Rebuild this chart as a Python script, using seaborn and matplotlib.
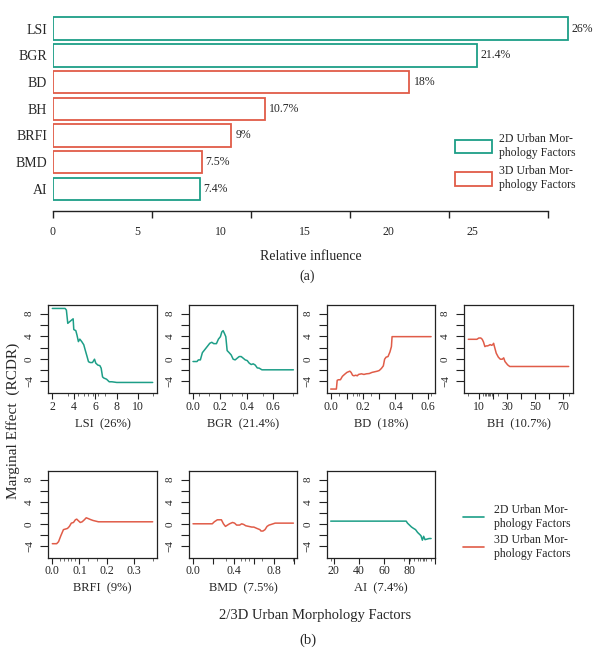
import numpy as np
import pandas as pd
import matplotlib
matplotlib.use("Agg")
import matplotlib.pyplot as plt
import seaborn as sns
from matplotlib.lines import Line2D
from matplotlib.patches import Patch

# ---------------- data ----------------
factors = ["LSI", "BGR", "BD", "BH", "BRFI", "BMD", "AI"]
influence = [26, 21.4, 18, 10.7, 9, 7.5, 7.4]
factor_type = ["2D", "2D", "3D", "3D", "3D", "3D", "2D"]
bar_ticks = [0, 5, 10, 15, 20, 25]
bar_tick_labels = ["0", "5", "10", "15", "20", "25"]
legend_labels = {"2D": "2D Urban Mor-\nphology Factors", "3D": "3D Urban Mor-\nphology Factors"}

lsi_x = [2.0, 3.19, 3.31, 3.44, 3.56, 3.81, 3.94, 4.0, 4.19, 4.3, 4.43, 4.56, 4.74, 4.93, 5.06, 5.24,
         5.37, 5.53, 5.74, 5.93, 6.05, 6.24, 6.43, 6.55, 6.68, 6.8, 7.05, 7.3, 7.55, 8.0, 11.35]
lsi_y = [8.94, 8.94, 8.65, 6.3, 6.5, 6.9, 7.1, 5.2, 5.0, 4.2, 3.06, 3.5, 3.06, 2.5, 1.6, 0.4,
         -0.5, -0.65, -0.65, -0.06, -0.76, -1.1, -1.2, -1.65, -3.2, -3.4, -3.6, -4.06, -4.06, -4.18, -4.18]
lsi_rug = [2.0, 3.44, 4.0, 4.43, 4.96, 5.37, 5.77, 6.3, 6.92, 11.35]

bgr_x = [0.0, 0.03, 0.04, 0.055, 0.07, 0.09, 0.11, 0.125, 0.14, 0.155, 0.175, 0.19, 0.205, 0.215, 0.225,
         0.235, 0.245, 0.255, 0.27, 0.285, 0.30, 0.315, 0.33, 0.345, 0.36, 0.375, 0.39, 0.405, 0.42,
         0.435, 0.45, 0.465, 0.48, 0.495, 0.515, 0.75]
bgr_y = [-0.47, -0.47, -0.18, -0.18, 1.1, 1.7, 2.3, 2.76, 2.94, 2.7, 2.7, 3.5, 3.94, 4.76, 5.0,
         4.5, 3.94, 1.47, 1.1, 0.7, -0.06, -0.18, 0.12, 0.41, 0.41, 0.12, -0.18, -0.3, -0.76,
         -1.0, -0.88, -1.1, -1.6, -1.65, -1.94, -1.94]
bgr_rug = [0.0, 0.045, 0.12, 0.295, 0.365, 0.52, 0.75]

bd_x = [0.0, 0.035, 0.04, 0.048, 0.06, 0.072, 0.085, 0.10, 0.118, 0.126, 0.135, 0.143, 0.155, 0.164,
        0.172, 0.19, 0.205, 0.22, 0.238, 0.255, 0.27, 0.288, 0.30, 0.313, 0.325, 0.333, 0.342, 0.354,
        0.366, 0.375, 0.379, 0.62]
bd_y = [-5.35, -5.35, -3.8, -3.7, -3.7, -3.1, -2.76, -2.4, -2.18, -2.4, -2.9, -3.0, -2.9, -3.0,
        -2.76, -2.65, -2.76, -2.65, -2.6, -2.4, -2.3, -2.18, -2.06, -1.7, -1.24, -0.06, 0.3, 0.41,
        1.24, 2.18, 3.94, 3.94]
bd_rug = [0.0, 0.05, 0.138, 0.16, 0.174, 0.25, 0.3, 0.62]

bh_x = [2.5, 8.6, 10, 11.4, 12.4, 13.3, 14.3, 15.3, 16.2, 17.2, 18.1, 19.1, 20.0, 20.5, 21.5, 22.4,
        23.9, 25.3, 26.7, 27.7, 28.6, 30.5, 32.0, 74]
bh_y = [3.47, 3.47, 3.7, 3.7, 3.47, 3.0, 2.18, 2.3, 2.3, 2.4, 2.53, 2.4, 2.53, 2.76, 1.82, 1.0,
        0.3, -0.06, -0.06, 0.18, -0.47, -1.06, -1.35, -1.35]
bh_rug = [2.5, 12.9, 14.3, 15.3, 16.2, 17.2, 18.1, 19.5, 23.4, 74]

brfi_x = [0.0, 0.016, 0.023, 0.031, 0.041, 0.048, 0.056, 0.063, 0.07, 0.078, 0.085, 0.09, 0.095,
          0.103, 0.11, 0.118, 0.125, 0.132, 0.14, 0.15, 0.16, 0.17, 0.37]
brfi_y = [-3.53, -3.53, -3.17, -2.15, -1.0, -0.9, -0.78, -0.42, 0.17, 0.29, 0.77, 0.89, 0.65,
          0.29, 0.41, 0.77, 1.13, 1.0, 0.83, 0.65, 0.53, 0.41, 0.41]
brfi_rug = [0.0, 0.028, 0.043, 0.056, 0.068, 0.083, 0.133, 0.163, 0.37]

bmd_x = [0.0, 0.19, 0.21, 0.24, 0.28, 0.30, 0.32, 0.34, 0.36, 0.39, 0.41, 0.43, 0.46, 0.48, 0.50,
         0.52, 0.55, 0.58, 0.60, 0.63, 0.66, 0.67, 0.69, 0.71, 0.73, 0.75, 0.77, 0.81, 0.99]
bmd_y = [0.05, 0.05, 0.41, 0.77, 0.77, 0.05, -0.42, -0.18, 0.05, 0.29, 0.17, -0.18, -0.18, 0.05,
         -0.07, -0.3, -0.42, -0.54, -0.54, -0.78, -1.0, -1.25, -1.25, -1.0, -0.42, -0.18, -0.07,
         0.17, 0.17]
bmd_rug = [0.0, 0.325, 0.47, 0.517, 0.556, 0.68, 0.99]

ai_x = [17.6, 77.4, 78.4, 80.0, 81.6, 83.2, 84.8, 86.4, 88.0, 89.1, 90.2, 91.2, 92.3, 93.9, 95.5, 97.1]
ai_y = [0.53, 0.53, 0.17, -0.18, -0.53, -0.78, -1.0, -1.5, -1.85, -2.1, -2.9, -2.2, -2.8, -2.7,
        -2.6, -2.6]
ai_rug = [17.6, 75.7, 80.6, 83.8, 86.4, 88.6, 90.7, 91.7, 93.0, 97.1]

panel_xticks = {
    "LSI": ([2, 4, 6, 8, 10], ["2", "4", "6", "8", "10"]),
    "BGR": ([0, 0.2, 0.4, 0.6], ["0.0", "0.2", "0.4", "0.6"]),
    "BD": ([0, 0.1, 0.2, 0.3, 0.4, 0.5, 0.6], ["0.0", "", "0.2", "", "0.4", "", "0.6"]),
    "BH": ([10, 20, 30, 40, 50, 60, 70], ["10", "", "30", "", "50", "", "70"]),
    "BRFI": ([0, 0.1, 0.2, 0.3], ["0.0", "0.1", "0.2", "0.3"]),
    "BMD": ([0, 0.2, 0.4, 0.6, 0.8, 1.0], ["0.0", "", "0.4", "", "0.8", ""]),
    "AI": ([20, 40, 60, 80, 100], ["20", "40", "60", "80", ""]),
}
y_ticks = [-4, -2, 0, 2, 4, 6, 8]
y_tick_labels = ["\u22124", "", "0", "", "4", "", "8"]

curves = {
    "LSI": (lsi_x, lsi_y, lsi_rug), "BGR": (bgr_x, bgr_y, bgr_rug), "BD": (bd_x, bd_y, bd_rug),
    "BH": (bh_x, bh_y, bh_rug), "BRFI": (brfi_x, brfi_y, brfi_rug), "BMD": (bmd_x, bmd_y, bmd_rug),
    "AI": (ai_x, ai_y, ai_rug),
}

# ---------------- style ----------------
sns.set_theme(style="white")
plt.rcParams["font.family"] = ["Liberation Serif", "DejaVu Serif"]
plt.rcParams["axes.unicode_minus"] = True

teal = "#1d9e87"
red = "#e05c48"
palette = {"2D": teal, "3D": red}
W, H = 605, 657

fig = plt.figure(figsize=(W / 100, H / 100), dpi=100)

# ---------------- (a) bar chart ----------------
df_bar = pd.DataFrame({"factor": factors, "influence": influence, "type": factor_type})
ax0 = fig.add_axes([53 / W, (H - 211) / H, 544.5 / W, 195.7 / H])
sns.barplot(data=df_bar, y="factor", x="influence", hue="type", order=factors,
            palette=palette, fill=False, width=0.84, dodge=False, saturation=1,
            errorbar=None, legend=False, ax=ax0, linewidth=1.3)
for c in ax0.containers:
    ax0.bar_label(c, fmt="%g%%", padding=3, fontsize=8.5)
ax0.set_xlim(0, 27.5)
ax0.set_ylim(6.83, -0.5)
sns.despine(ax=ax0, left=True, top=True, right=True)
ax0.spines["bottom"].set_bounds(0, 25)
ax0.spines["bottom"].set_color("#222222")
ax0.spines["bottom"].set_linewidth(1.0)
ax0.xaxis.remove_overlapping_locs = False
ax0.set_xticks(bar_ticks, labels=[""] * len(bar_ticks))
label_shift = 0.847
ax0.set_xticks([t * label_shift for t in bar_ticks], labels=bar_tick_labels, minor=True)
ax0.tick_params(axis="x", which="major", direction="out", length=5.3, width=1.0,
                color="#222222", bottom=True)
ax0.tick_params(axis="x", which="minor", length=0, pad=11, labelsize=8.5, bottom=True)
ax0.tick_params(axis="y", length=0, pad=4.3, labelsize=10)
ax0.set_xlabel("")
ax0.set_ylabel("")

fig.legend(handles=[Patch(facecolor="white", edgecolor=palette[k], linewidth=1.3, label=legend_labels[k])
                    for k in ["2D", "3D"]],
           loc="upper left", bbox_to_anchor=(455 / W, 1 - 133 / H), frameon=False, fontsize=8.5,
           handlelength=3.1, handleheight=1.4, handletextpad=0.6, labelspacing=0.55,
           borderpad=0, borderaxespad=0)

fig.text(311 / W, 1 - 256 / H, "Relative influence", ha="center", va="center", fontsize=10)
fig.text(307 / W, 1 - 276 / H, "(a)", ha="center", va="center", fontsize=10)

# ---------------- (b) partial dependence panels ----------------
col_left = [48.3, 189, 326.7, 464.3]
panel_w = 108.4
rows = [(305, 393), (471, 557.7)]
pos = [(0, 0), (0, 1), (0, 2), (0, 3), (1, 0), (1, 1), (1, 2)]

for name, pct, ftype, (r, c) in zip(factors, influence, factor_type, pos):
    top, bot = rows[r]
    ax = fig.add_axes([col_left[c] / W, (H - bot) / H, panel_w / W, (bot - top) / H])
    xs, ys, rug = curves[name]
    sns.lineplot(x=xs, y=ys, ax=ax, color=palette[ftype], linewidth=1.1,
                 estimator=None, sort=False)
    rng = max(xs) - min(xs)
    ax.set_xlim(min(xs) - 0.04 * rng, max(xs) + 0.04 * rng)
    ax.set_ylim(-6.05, 9.55)
    ticks, labels = panel_xticks[name]
    ax.set_xticks(ticks, labels=labels)
    ax.set_xticks(rug, minor=True)
    ax.set_yticks(y_ticks, labels=y_tick_labels)
    for lab in ax.get_yticklabels():
        lab.set_rotation(90)
        lab.set_va("center")
    ax.tick_params(axis="x", which="major", direction="out", length=4.1, width=0.8,
                   color="#222222", pad=1.5, labelsize=8.5, bottom=True)
    ax.tick_params(axis="x", which="minor", direction="out", length=2.2, width=0.6,
                   color="#555555", bottom=True)
    ax.tick_params(axis="y", which="major", direction="out", length=5.8, width=0.8,
                   color="#222222", pad=4.5, labelsize=8, left=True)
    for s in ax.spines.values():
        s.set_visible(True)
        s.set_color("#222222")
        s.set_linewidth(0.9)
    ax.set_xlabel(f"{name}  ({pct:g}%)", fontsize=9)
    ax.xaxis.set_label_coords(0.5, -31 / (bot - top))
    ax.xaxis.label.set_va("center")
    ax.set_ylabel("")

fig.legend(handles=[Line2D([], [], color=palette[k], linewidth=1.2, label=legend_labels[k])
                    for k in ["2D", "3D"]],
           loc="upper left", bbox_to_anchor=(463 / W, 1 - 504 / H), frameon=False, fontsize=8.5,
           handlelength=1.8, handletextpad=0.85, labelspacing=0.35,
           borderpad=0, borderaxespad=0)

fig.text(13 / W, 1 - 421 / H, "Marginal Effect  (RCDR)", rotation=90, ha="center", va="center",
         fontsize=11)
fig.text(315 / W, 1 - 615 / H, "2/3D Urban Morphology Factors", ha="center", va="center",
         fontsize=10.5)
fig.text(308 / W, 1 - 640 / H, "(b)", ha="center", va="center", fontsize=10.5)

fig.savefig("out.png", dpi=100)
